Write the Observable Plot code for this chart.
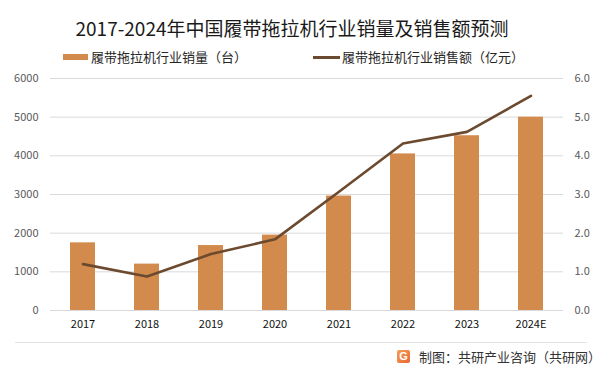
<!DOCTYPE html>
<html><head><meta charset="utf-8">
<script src="https://cdn.jsdelivr.net/npm/d3@7"></script>
<script src="https://cdn.jsdelivr.net/npm/@observablehq/plot@0.6"></script>
<style>
body{margin:0;background:#fff;}
#wrap{position:relative;width:601px;height:375px;overflow:hidden;font-family:"Noto Sans CJK SC","Noto Sans",sans-serif;background:#fff;}
#title{position:absolute;left:0;width:584px;top:13px;text-align:center;font-size:19px;color:#1a1a1a;line-height:30px;white-space:nowrap;}
.lg{position:absolute;font-size:13px;color:#262626;line-height:18px;top:48px;white-space:nowrap;}
.sw{position:absolute;}
#chart{position:absolute;left:0;top:70px;}
#sep{position:absolute;left:15px;top:342px;width:572px;height:1px;background:#e3e3e3;}
#logo{position:absolute;left:397px;top:350px;width:13px;height:13px;border-radius:2px;background:linear-gradient(135deg,#f6a04d,#e8663a);color:#fff;font:bold 11px/13px "Liberation Sans",sans-serif;text-align:center;}
#cap{position:absolute;left:419px;top:348px;font-size:13px;line-height:18px;color:#333;white-space:nowrap;}
</style></head>
<body>
<div id="wrap">
  <div id="title"></div>
  <div class="sw" style="left:63px;top:54px;width:25px;height:6px;background:#D38B4D"></div>
  <div class="lg" id="lg1" style="left:91px"></div>
  <div class="sw" style="left:313px;top:56px;width:27px;height:3px;background:#6B4A2F"></div>
  <div class="lg" id="lg2" style="left:342px"></div>
  <div id="chart"></div>
  <div id="sep"></div>
  <div id="logo">G</div>
  <div id="cap"></div>
</div>
<script>
const titleText = "2017-2024年中国履带拖拉机行业销量及销售额预测";
const seriesNames = ["履带拖拉机行业销量（台）", "履带拖拉机行业销售额（亿元）"];
const captionText = "制图：共研产业咨询（共研网）";
const categories = ["2017","2018","2019","2020","2021","2022","2023","2024E"];
const salesVolume = [1750, 1200, 1680, 1950, 2960, 4050, 4520, 5000];
const salesValue = [1.20, 0.88, 1.46, 1.84, 3.07, 4.32, 4.62, 5.55];
const leftTicks = [0, 1000, 2000, 3000, 4000, 5000, 6000];
const rightTickLabels = ["0.0","1.0","2.0","3.0","4.0","5.0","6.0"];

document.getElementById("title").textContent = titleText;
document.getElementById("lg1").textContent = seriesNames[0];
document.getElementById("lg2").textContent = seriesNames[1];
document.getElementById("cap").textContent = captionText;

const rows = categories.map((c, i) => ({cat: c, vol: salesVolume[i], val: salesValue[i] * 1000}));

const chart = Plot.plot({
  width: 601,
  height: 270,
  marginTop: 8,
  marginBottom: 30,
  marginLeft: 50,
  marginRight: 38,
  style: {fontSize: "11px", fontFamily: "'Noto Sans CJK SC','Noto Sans',sans-serif", background: "transparent", color: "#595959"},
  x: {type: "band", domain: categories, paddingInner: 0.61, paddingOuter: 0.305},
  y: {domain: [0, 6000]},
  marks: [
    Plot.ruleY(leftTicks, {stroke: "#d9d9d9", strokeWidth: 1}),
    Plot.barY(rows, {x: "cat", y: "vol", fill: "#D38B4D"}),
    Plot.line(rows, {x: "cat", y: "val", stroke: "#6B4A2F", strokeWidth: 2.6, strokeLinejoin: "round"}),
    Plot.axisY(leftTicks, {anchor: "left", tickSize: 0, tickPadding: 12, label: null, tickFormat: d => String(d)}),
    Plot.axisY(leftTicks, {anchor: "right", tickSize: 0, tickPadding: 11, label: null, tickFormat: (d, i) => rightTickLabels[leftTicks.indexOf(d)]}),
    Plot.axisX({tickSize: 0, tickPadding: 10, label: null, color: "#111"})
  ]
});
document.getElementById("chart").appendChild(chart);
</script>
</body></html>
